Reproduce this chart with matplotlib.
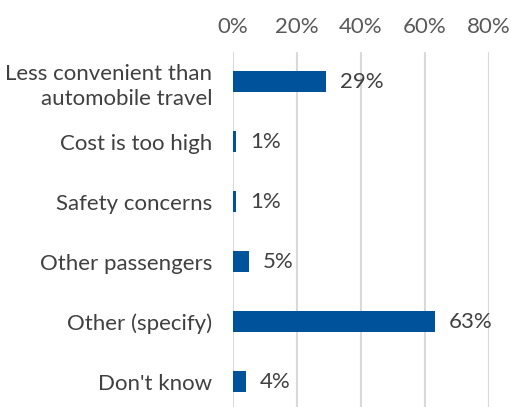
import matplotlib
matplotlib.use('Agg')
import matplotlib.pyplot as plt
from matplotlib.ticker import FuncFormatter

# Reasons data
categories = ['Less convenient than\nautomobile travel', 'Cost is too high', 'Safety concerns',
              'Other passengers', 'Other (specify)', "Don't know"]
values = [29, 1, 1, 5, 63, 4]
x_ticks = [0, 20, 40, 60, 80]

plt.rcParams['font.family'] = ['Lato', 'DejaVu Sans']
fs = 16

fig = plt.figure(figsize=(5.11, 4.07), dpi=100)
# axes spans x 233..489 px, y 52..407 px
ax = fig.add_axes([233 / 511, 0, 256 / 511, 355 / 407])

pos = list(range(len(categories)))
ax.barh(pos, values, height=0.35, color='#00529B', zorder=3)
for y, v in zip(pos, values):
    ax.text(v + 4.3, y, f'{v}%', va='center', ha='left', fontsize=fs, color='#404040')

ax.set_xlim(0, 80)
ax.set_ylim(5.417, -0.5)
ax.set_xticks(x_ticks)
ax.xaxis.set_major_formatter(FuncFormatter(lambda v, p: f'{v:.0f}%'))
ax.xaxis.tick_top()
ax.tick_params(axis='x', length=0, pad=11, labelsize=fs, labelcolor='#595959')
ax.set_yticks(pos)
ax.set_yticklabels(categories, linespacing=1.3)
ax.tick_params(axis='y', length=0, pad=15, labelsize=fs, labelcolor='#404040')
ax.grid(axis='x', color='#D9D9D9', linewidth=1.5, zorder=0)
for s in ax.spines.values():
    s.set_visible(False)

fig.savefig('out.png', dpi=100)
